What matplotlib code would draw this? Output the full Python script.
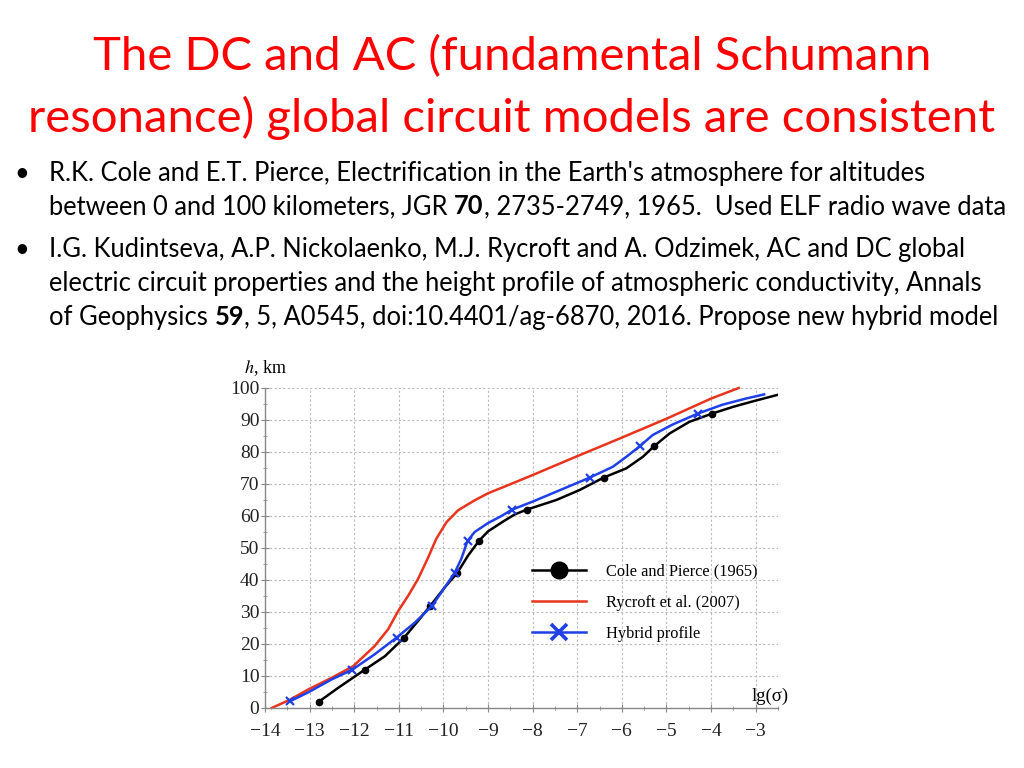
import matplotlib
matplotlib.use("Agg")
import matplotlib.pyplot as plt
from matplotlib.ticker import MultipleLocator

# ---------------- data ----------------
black_x = [-12.79, -12.36, -11.76, -11.31, -10.88, -10.57, -10.29, -9.97, -9.69, -9.45,
           -9.2, -9.0, -8.66, -8.4, -8.13, -7.47, -6.95, -6.41, -5.9, -5.53,
           -5.27, -4.93, -4.49, -3.98, -3.51, -3.07, -2.47]
black_h = [2, 6.3, 12, 16.2, 22, 27.2, 32, 37.7, 42.2, 47.6,
           52.3, 55.2, 58.3, 60.5, 62, 65, 68.1, 72, 74.9, 78.5,
           81.9, 85.8, 89.4, 92, 94.1, 95.8, 98]
black_marks = [0, 2, 4, 6, 8, 10, 14, 17, 20, 23]

blue_x = [-13.44, -13.03, -12.51, -12.04, -11.54, -11.05, -10.64, -10.25, -9.97, -9.75,
          -9.6, -9.46, -9.3, -9.0, -8.7, -8.46, -8.0, -7.47, -6.72, -6.2,
          -5.9, -5.6, -5.31, -4.86, -4.3, -3.74, -3.22, -2.81]
blue_h = [2.1, 4.9, 8.9, 12, 16.8, 22, 26.7, 32, 37.7, 42.2,
          46.6, 52.2, 55, 57.8, 60, 62, 64.5, 67.6, 72, 75.4,
          78.5, 81.8, 85.3, 88.6, 92, 94.8, 96.7, 98]
blue_marks = [0, 3, 5, 7, 9, 11, 15, 18, 21, 24]

red_x = [-13.85, -13.44, -13.03, -12.51, -12.02, -11.54, -11.24, -11.01, -10.79, -10.57,
         -10.34, -10.16, -9.93, -9.67, -9.3, -9.0, -8.4, -8.0, -7.0, -6.0,
         -5.0, -4.0, -3.38]
red_h = [0, 2.6, 5.8, 9.4, 13.1, 19.4, 24.6, 30.4, 35.1, 40.3,
         47.1, 52.9, 58.1, 61.8, 64.9, 67.1, 70.5, 72.8, 78.7, 84.5,
         90.4, 96.7, 100]

series_labels = ["Cole and Pierce (1965)", "Rycroft et al. (2007)", "Hybrid profile"]
x_ticks = [-14, -13, -12, -11, -10, -9, -8, -7, -6, -5, -4, -3]
y_ticks = [0, 10, 20, 30, 40, 50, 60, 70, 80, 90, 100]

title_lines = ["The DC and AC (fundamental Schumann",
               "resonance) global circuit models are consistent"]
# each line: list of (text, bold)
bullet_lines = [
    [("R.K. Cole and E.T. Pierce, Electrification in the Earth's atmosphere for altitudes", False)],
    [("between 0 and 100 kilometers, JGR ", False), ("70", True),
     (", 2735-2749, 1965.  Used ELF radio wave data", False)],
    [("I.G. Kudintseva, A.P. Nickolaenko, M.J. Rycroft and A. Odzimek, AC and DC global", False)],
    [("electric circuit properties and the height profile of atmospheric conductivity, Annals", False)],
    [("of Geophysics ", False), ("59", True),
     (", 5, A0545, doi:10.4401/ag-6870, 2016. Propose new hybrid model", False)],
]
bullet_starts = [0, 2]

# ---------------- figure ----------------
W, H = 1024, 768
fig = plt.figure(figsize=(W / 100, H / 100), dpi=100)
fig.patch.set_facecolor("white")

sans = ["Lato", "DejaVu Sans"]
serif = ["Liberation Serif", "DejaVu Serif"]
plt.rcParams["mathtext.fontset"] = "stix"

# title
title_base = [70, 132]
for line, yb in zip(title_lines, title_base):
    fig.text(0.5, 1 - yb / H, line, ha="center", va="baseline",
             fontsize=34, color="#ff0000", family=sans)

# bullets
renderer = fig.canvas.get_renderer()
bullet_base = [181, 214, 257, 291, 325]
text_x0 = 49
bfs = 18.4
for i, (parts, yb) in enumerate(zip(bullet_lines, bullet_base)):
    y = 1 - yb / H
    if i in bullet_starts:
        fig.text(14 / W, y, "\u2022", ha="left", va="baseline", fontsize=bfs,
                 color="black", family=sans)
    xpix = text_x0
    for txt, bold in parts:
        t = fig.text(xpix / W, y, txt, ha="left", va="baseline", fontsize=bfs,
                     color="black", family=sans,
                     fontweight="bold" if bold else "normal")
        bb = t.get_window_extent(renderer=renderer)
        xpix += bb.width

# axes
ax = fig.add_axes([265 / W, 1 - 708 / H, (778 - 265) / W, (708 - 388) / H])
ax.set_xlim(-14, -2.5)
ax.set_ylim(0, 100)

lw = 1.8
ax.plot(black_x, black_h, color="black", lw=lw, marker="o", markersize=4.5,
        markevery=black_marks, label=series_labels[0], zorder=3,
        solid_joinstyle="round")
ax.plot(red_x, red_h, color="#e8341c", lw=lw, label=series_labels[1], zorder=2,
        clip_on=False, solid_joinstyle="round")
ax.plot(blue_x, blue_h, color="#1f3fe8", lw=lw, marker="x", markersize=6,
        markeredgewidth=1.6, markevery=blue_marks, label=series_labels[2], zorder=4,
        solid_joinstyle="round")

ax.set_xticks(x_ticks)
ax.set_yticks(y_ticks)
ax.set_xticklabels([f"\u2212{abs(v)}" for v in x_ticks])
ax.set_yticklabels([str(v) for v in y_ticks])
ax.xaxis.set_minor_locator(MultipleLocator(0.5))
ax.yaxis.set_minor_locator(MultipleLocator(5))
for lab in ax.get_xticklabels() + ax.get_yticklabels():
    lab.set_family(serif)
    lab.set_fontsize(14)
    lab.set_color("#222222")
ax.tick_params(which="major", direction="inout", length=6, width=0.8, color="#888888")
ax.tick_params(axis="x", which="major", pad=8)
ax.tick_params(axis="y", which="major", pad=1)
ax.tick_params(which="minor", direction="inout", length=3, width=0.6, color="#888888")

ax.grid(True, which="major", linestyle=(0, (2, 2)), color="#bbbbbb", linewidth=0.8)
for s in ["top", "right"]:
    ax.spines[s].set_visible(False)
for s in ["left", "bottom"]:
    ax.spines[s].set_color("#888888")
    ax.spines[s].set_linewidth(1.0)

ax.text(-0.04, 1.03, "$h$, km", transform=ax.transAxes, ha="left", va="bottom",
        fontsize=13, family=serif)
ax.text(1.02, 0.01, "lg(\u03c3)", transform=ax.transAxes, ha="right", va="bottom",
        fontsize=13.5, family=serif)

leg = ax.legend(loc="upper left", bbox_to_anchor=(517 / W, 1 - 549 / H),
                bbox_transform=fig.transFigure, frameon=False,
                prop={"family": serif, "size": 11.8}, handlelength=3.3,
                handletextpad=1.2, labelspacing=0.92)
hs = leg.legend_handles
hs[0].set_markersize(12)
hs[2].set_markersize(11)
hs[2].set_markeredgewidth(2.6)

fig.savefig("out.png", dpi=100, facecolor="white")
